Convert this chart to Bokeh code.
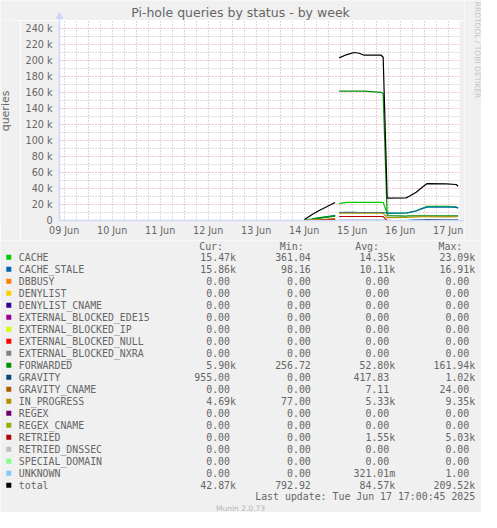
from math import pi

import pandas as pd
from bokeh.embed import file_html
from bokeh.layouts import column, row
from bokeh.models import ColumnDataSource, DatetimeTickFormatter, FixedTicker, Range1d
from bokeh.plotting import figure
from bokeh.resources import INLINE

nan = float("nan")

# --- data (values in thousands) ---
times = [
    "2025-06-14 12:00", "2025-06-14 16:00", "2025-06-14 19:30", "2025-06-14 23:30",
    "2025-06-15 03:30", "2025-06-15 04:30", "2025-06-15 05:30", "2025-06-15 09:00",
    "2025-06-15 13:00", "2025-06-15 15:30", "2025-06-15 18:00", "2025-06-16 02:30",
    "2025-06-16 03:30", "2025-06-16 05:30", "2025-06-16 15:00", "2025-06-16 16:30",
    "2025-06-16 20:00", "2025-06-16 23:00", "2025-06-17 01:30", "2025-06-17 11:00",
    "2025-06-17 16:00", "2025-06-17 17:00",
]
cache_k = [0.36, 2.0, 3.5, 5.0, 6.5, nan, 21.2, 22.6, 22.7, 22.6, 22.6, 22.6, 22.4,
           9.0, 9.4, 9.8, 12.2, 15.3, 17.8, 17.6, 17.0, 15.47]
cache_stale_k = [0.10, 1.5, 3.0, 4.5, 6.0, nan, 10.0, 10.1, 10.1, 10.0, 10.0, 10.0, 10.0,
                 9.3, 9.6, 10.1, 11.9, 14.8, 16.8, 16.9, 16.5, 15.86]
forwarded_k = [0.26, 1.5, 3.0, 4.3, 5.5, nan, 161.6, 161.8, 161.9, 161.7, 161.6, 160.2, 158.5,
               6.0, 5.4, 5.9, 5.9, 5.9, 5.9, 5.9, 5.9, 5.90]
gravity_k = [0.0, 0.1, 0.2, 0.3, 0.5, nan, 0.2, 0.2, 0.2, 0.2, 0.2, 0.2, 0.2,
             0.0, 0.0, 0.3, 0.9, 0.9, 1.0, 0.95, 0.95, 0.955]
in_progress_k = [0.08, 0.8, 1.3, 1.8, 2.5, nan, 9.1, 9.3, 9.35, 9.2, 9.1, 9.1, 9.0,
                 3.6, 3.9, 4.3, 4.5, 4.7, 4.7, 4.5, 4.7, 4.69]
retried_k = [0.0, 0.3, 0.6, 1.0, 1.5, nan, 5.0, 5.03, 5.0, 5.0, 5.0, 5.0, 4.8,
             0.0, 0.0, 0.0, 0.0, 0.0, 0.0, 0.0, 0.0, 0.0]
total_k = [0.79, 7.5, 12.5, 17.5, 22.5, nan, 203.3, 207.1, 210.0, 209.1, 206.6, 206.6, 204.1,
           27.9, 28.3, 30.4, 35.4, 41.6, 46.2, 45.8, 45.0, 42.87]

y_ticks = [0, 20000, 40000, 60000, 80000, 100000, 120000, 140000, 160000, 180000, 200000, 220000, 240000]
y_labels = ["0", "20 k", "40 k", "60 k", "80 k", "100 k", "120 k", "140 k", "160 k", "180 k",
            "200 k", "220 k", "240 k"]
y_minor = [10000, 30000, 50000, 70000, 90000, 110000, 130000, 150000, 170000, 190000, 210000,
           230000, 250000]

legend_names = ["CACHE", "CACHE_STALE", "DBBUSY", "DENYLIST", "DENYLIST_CNAME",
                "EXTERNAL_BLOCKED_EDE15", "EXTERNAL_BLOCKED_IP", "EXTERNAL_BLOCKED_NULL",
                "EXTERNAL_BLOCKED_NXRA", "FORWARDED", "GRAVITY", "GRAVITY_CNAME", "IN_PROGRESS",
                "REGEX", "REGEX_CNAME", "RETRIED", "RETRIED_DNSSEC", "SPECIAL_DOMAIN", "UNKNOWN",
                "total"]
legend_colors = ["#00CC00", "#0066B3", "#FF8000", "#FFCC00", "#330099", "#990099", "#CCFF00",
                 "#FF0000", "#808080", "#008F00", "#00487D", "#B35A00", "#B38F00", "#6B006B",
                 "#8FB300", "#B30000", "#BEBEBE", "#80FF80", "#80C9FF", "#000000"]
cur_vals = ["15.47k", "15.86k", "0.00", "0.00", "0.00", "0.00", "0.00", "0.00", "0.00", "5.90k",
            "955.00", "0.00", "4.69k", "0.00", "0.00", "0.00", "0.00", "0.00", "0.00", "42.87k"]
min_vals = ["361.04", "98.16", "0.00", "0.00", "0.00", "0.00", "0.00", "0.00", "0.00", "256.72",
            "0.00", "0.00", "77.00", "0.00", "0.00", "0.00", "0.00", "0.00", "0.00", "792.92"]
avg_vals = ["14.35k", "10.11k", "0.00", "0.00", "0.00", "0.00", "0.00", "0.00", "0.00", "52.80k",
            "417.83", "7.11", "5.33k", "0.00", "0.00", "1.55k", "0.00", "0.00", "321.01m", "84.57k"]
max_vals = ["23.09k", "16.91k", "0.00", "0.00", "0.00", "0.00", "0.00", "0.00", "0.00", "161.94k",
            "1.02k", "24.00", "9.35k", "0.00", "0.00", "5.03k", "0.00", "0.00", "1.00", "209.52k"]

FONT = "#666666"
BACK = "#F0F0F0"
AXIS = "#CFD6F8"


def strip(w, h):
    # plain grey panel in pixel coordinates, for the texts around the graph
    f = figure(width=w, height=h, x_range=Range1d(0, w), y_range=Range1d(h, 0),
               x_axis_location=None, y_axis_location=None, toolbar_location=None,
               output_backend="svg", min_border=0, background_fill_color=BACK,
               border_fill_color=BACK, outline_line_color=None)
    f.grid.visible = False
    return f


# --- main graph ---
t = pd.to_datetime(times)
src = ColumnDataSource(dict(
    t=t,
    CACHE=[v * 1000 for v in cache_k],
    CACHE_STALE=[v * 1000 for v in cache_stale_k],
    FORWARDED=[v * 1000 for v in forwarded_k],
    GRAVITY=[v * 1000 for v in gravity_k],
    IN_PROGRESS=[v * 1000 for v in in_progress_k],
    RETRIED=[v * 1000 for v in retried_k],
    total=[v * 1000 for v in total_k],
))

x_start = pd.Timestamp("2025-06-09 09:40")
x_end = pd.Timestamp("2025-06-17 17:40")
x_tail = x_end + pd.Timedelta(hours=2.5)   # axis runs a little past the canvas

p = figure(width=444, height=220, x_axis_type="datetime",
           x_range=Range1d(x_start, x_tail), y_range=Range1d(0, 250000),
           toolbar_location=None, output_backend="svg",
           min_border_left=39, min_border_right=0, min_border_top=0, min_border_bottom=20,
           background_fill_color="white", border_fill_color=BACK, outline_line_color=None)

# grey beyond the end of the canvas, so only the axis line reaches there
p.quad(left=[x_end], right=[x_tail], bottom=[0], top=[250000], fill_color=BACK, line_color=None)

for name in ["CACHE", "CACHE_STALE", "FORWARDED", "GRAVITY", "IN_PROGRESS", "RETRIED", "total"]:
    p.line("t", name, source=src, line_color=legend_colors[legend_names.index(name)], line_width=1.2)


def ms(ts):
    return (ts.astype("int64") // 10**6).tolist()


noons = pd.date_range("2025-06-09 12:00", periods=9, freq="D")
midnights = pd.date_range("2025-06-10 00:00", periods=8, freq="D")
six_hours = pd.DatetimeIndex([x for x in pd.date_range("2025-06-09 12:00", "2025-06-17 12:00", freq="6h")
                              if x.hour != 0])

p.xaxis.ticker = FixedTicker(ticks=ms(noons))
p.xaxis.formatter = DatetimeTickFormatter(days="%d %b", hours="%d %b", hourmin="%d %b",
                                          months="%d %b", minutes="%d %b")
p.xgrid.ticker = FixedTicker(ticks=ms(midnights), minor_ticks=ms(six_hours))

p.yaxis.ticker = FixedTicker(ticks=y_ticks, minor_ticks=y_minor)
p.yaxis.major_label_overrides = dict(zip(y_ticks, y_labels))

for ax in p.axis:
    ax.axis_line_color = AXIS
    ax.axis_line_width = 1.5
    ax.major_tick_out = 0
    ax.major_tick_in = 0
    ax.minor_tick_out = 0
    ax.minor_tick_in = 0
    ax.major_tick_line_color = None
    ax.minor_tick_line_color = None
    ax.major_label_text_font = "DejaVu Sans"
    ax.major_label_text_font_size = "9.6px"
    ax.major_label_text_color = FONT
p.yaxis.major_label_standoff = 7
p.xaxis.major_label_standoff = 4

for g in (p.xgrid, p.ygrid):
    g.grid_line_color = "#E08080"
    g.grid_line_alpha = 0.8
    g.grid_line_dash = "1 2"
    g.minor_grid_line_color = "#A8A8A8"
    g.minor_grid_line_alpha = 0.8
    g.minor_grid_line_dash = "1 2"

# --- texts around the graph ---
top = strip(464, 20)
top.text(x=[240], y=[12], text=["Pi-hole queries by status - by week"], text_align="center",
         text_baseline="middle", text_font={"value": "DejaVu Sans"}, text_font_size="12.5px",
         text_color=FONT)
# tip of the y axis, above the canvas
top.segment(x0=[59], y0=[15], x1=[59], y1=[20], line_color=AXIS, line_width=1.5)
top.scatter(x=[59], y=[16], marker="triangle", size=7, fill_color=AXIS, line_color=AXIS)

left = strip(20, 220)
left.text(x=[4.5], y=[99.5], text=["queries"], angle=pi / 2, text_align="center",
          text_baseline="middle", text_font={"value": "DejaVu Sans"}, text_font_size="11px",
          text_color=FONT)

right = strip(17, 240)
right.text(x=[13.2], y=[49.5], text=["RRDTOOL / TOBI OETIKER"], angle=-pi / 2,
           text_align="center", text_baseline="middle", text_font={"value": "DejaVu Sans"},
           text_font_size="7.5px", text_color="#C4C4C4")

# --- legend block below the graph (pixel coordinates) ---
q = strip(481, 272)

row_y = [16.7 + 12 * i for i in range(len(legend_names))]
mono = dict(text_font={"value": "DejaVu Sans Mono"}, text_font_size="9.9px",
            text_color=FONT, text_baseline="middle")

q.rect(x=[8.3] * len(legend_names), y=row_y, width=5, height=5, fill_color=legend_colors,
       line_color=None)
q.text(x=[18.3] * len(legend_names), y=row_y, text=legend_names, text_align="left", **mono)

q.text(x=[198.7, 279.3, 354.7, 438.0], y=[6] * 4, text=["Cur:", "Min:", "Avg:", "Max:"],
       text_align="left", **mono)

for col_end, vals in [(229.5, cur_vals), (310.3, min_vals), (388.7, avg_vals), (468.7, max_vals)]:
    xs = [col_end + (6 if s[-1].isalpha() else 0) for s in vals]
    q.text(x=xs, y=row_y, text=vals, text_align="right", **mono)

q.text(x=[474.7], y=[256.3], text=["Last update: Tue Jun 17 17:00:45 2025"],
       text_align="right", **mono)
q.text(x=[240], y=[268.3], text=["Munin 2.0.73"], text_align="center", text_baseline="middle",
       text_font={"value": "DejaVu Sans"}, text_font_size="7.5px", text_color="#B4B4B4")

layout = column(row(column(top, row(left, p)), right), q)
open("out.html", "w").write(file_html(layout, INLINE))
